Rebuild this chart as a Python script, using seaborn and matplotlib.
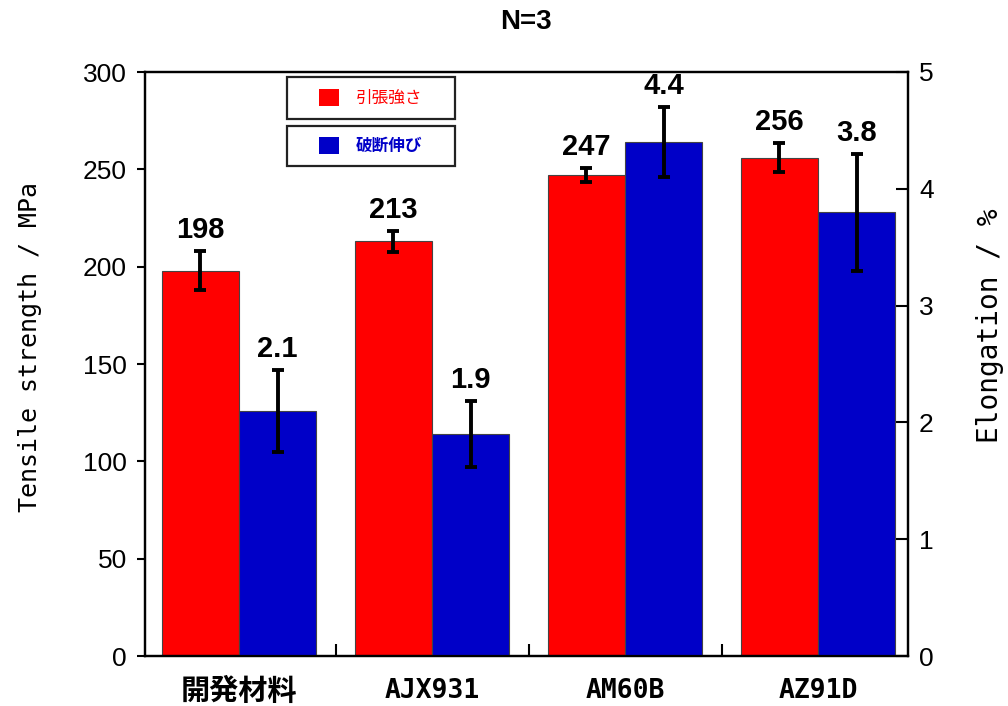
import matplotlib
matplotlib.use("Agg")
import matplotlib.pyplot as plt
import numpy as np
import pandas as pd
import seaborn as sns
from matplotlib.patches import Patch, Rectangle
from matplotlib.ticker import FixedLocator

# Materials and measured values (N=3)
materials = ['開発材料', 'AJX931', 'AM60B', 'AZ91D']
series_names = ['引張強さ', '破断伸び']
tensile = [198, 213, 247, 256]          # MPa
tensile_err = [10, 5.5, 3.5, 7.5]
elongation = [2.1, 1.9, 4.4, 3.8]       # %
elongation_err = [0.35, 0.28, 0.30, 0.50]
left_ticks = [0, 50, 100, 150, 200, 250, 300]
right_ticks = [0, 1, 2, 3, 4, 5]
colors = ['#ff0000', '#0000c8']

sns.set_theme(style='ticks')
plt.rcParams['font.family'] = ['Liberation Sans', 'Noto Sans CJK JP']
plt.rcParams['text.color'] = 'black'
plt.rcParams['axes.labelcolor'] = 'black'
plt.rcParams['axes.edgecolor'] = 'black'
plt.rcParams['xtick.color'] = 'black'
plt.rcParams['ytick.color'] = 'black'

W, H = 1008, 706
fig = plt.figure(figsize=(W / 100, H / 100), dpi=100)
ax = fig.add_axes([145 / W, 50 / H, 763 / W, 584 / H])
ax2 = ax.twinx()

palette = dict(zip(series_names, colors))
df_ts = pd.DataFrame({'material': materials, 'series': series_names[0], 'value': tensile})
df_el = pd.DataFrame({'material': materials, 'series': series_names[1], 'value': elongation})

common = dict(x='material', y='value', hue='series', hue_order=series_names,
              order=materials, palette=palette, width=0.8, dodge=True,
              errorbar=None, legend=False, saturation=1,
              edgecolor='#444444', linewidth=0.8)
sns.barplot(data=df_ts, ax=ax, **common)
sns.barplot(data=df_el, ax=ax2, **common)


def bar_centers(axis):
    rects = sorted(axis.patches, key=lambda p: p.get_x())
    return [r.get_x() + r.get_width() / 2 for r in rects]


def annotate_series(axis, values, errs, fmt):
    xs = bar_centers(axis)
    axis.errorbar(xs, values, yerr=errs, fmt='none', ecolor='black',
                  elinewidth=2.8, capsize=4, capthick=2.8, zorder=5)
    for x, v, e in zip(xs, values, errs):
        axis.annotate(fmt.format(v), (x, v + e), xytext=(0, 5),
                      textcoords='offset points', ha='center', va='bottom',
                      fontsize=21, fontweight='bold', zorder=6)


annotate_series(ax, tensile, tensile_err, '{:d}')
annotate_series(ax2, elongation, elongation_err, '{:.1f}')

# Axis limits and ticks
ax.set_xlim(-0.487, 3.466)
ax.set_ylim(0, 300)
ax2.set_ylim(0, 5)
ax.set_yticks(left_ticks)
ax2.set_yticks(right_ticks)
ax.yaxis.tick_left()

ax.tick_params(axis='y', direction='out', length=6, width=1.5, labelsize=19, pad=7)
ax2.tick_params(axis='y', direction='in', length=9, width=1.5, labelsize=19, pad=8)
ax.tick_params(axis='x', which='major', length=0, pad=16)
ax.xaxis.set_minor_locator(FixedLocator([0.5, 1.5, 2.5]))
ax.tick_params(axis='x', which='minor', direction='in', length=9, width=1.5)

ax.set_xticks(range(len(materials)))
ax.set_xticklabels(materials)
for lbl in ax.get_xticklabels():
    lbl.set_family(['DejaVu Sans Mono', 'Noto Sans CJK JP'])
    lbl.set_fontweight('bold')
    lbl.set_fontsize(21 if not lbl.get_text().isascii() else 19)

for a in (ax, ax2):
    for s in a.spines.values():
        s.set_linewidth(1.6)
        s.set_color('black')

ax.set_xlabel('')
ax2.set_xlabel('')
ax.set_ylabel('Tensile strength / MPa', fontfamily='DejaVu Sans Mono',
              fontsize=18, va='center', ha='center')
ax.yaxis.set_label_coords((30 - 145) / 763, (656 - 347) / 584)
ax2.set_ylabel('Elongation / %', fontfamily='DejaVu Sans Mono',
               fontsize=20, rotation=90, va='center', ha='center')
ax2.yaxis.set_label_coords((990 - 145) / 763, (656 - 326) / 584)

fig.text(526 / W, 1 - 22 / H, 'N=3', ha='center', va='center',
         fontsize=20, fontweight='bold')

# Legend: two boxed entries
legend_specs = [
    (series_names[0], colors[0], 'normal', 98, (287, 77, 168, 42)),
    (series_names[1], colors[1], 'bold', 146, (287, 126, 168, 40)),
]
for name, col, weight, yc, (bx, by, bw, bh) in legend_specs:
    leg = fig.legend(handles=[Patch(facecolor=col, edgecolor='none')], labels=[name],
                     loc='center', bbox_to_anchor=(371 / W, 1 - yc / H),
                     frameon=False, handlelength=1.2, handleheight=1.2,
                     handletextpad=1.0,
                     prop={'family': 'Noto Sans CJK JP', 'size': 12, 'weight': weight})
    for t in leg.get_texts():
        t.set_color(col)
    fig.add_artist(Rectangle((bx / W, 1 - (by + bh) / H), bw / W, bh / H,
                             transform=fig.transFigure, fill=False,
                             edgecolor='#222222', linewidth=1.6))

fig.savefig('out.png', dpi=100)
